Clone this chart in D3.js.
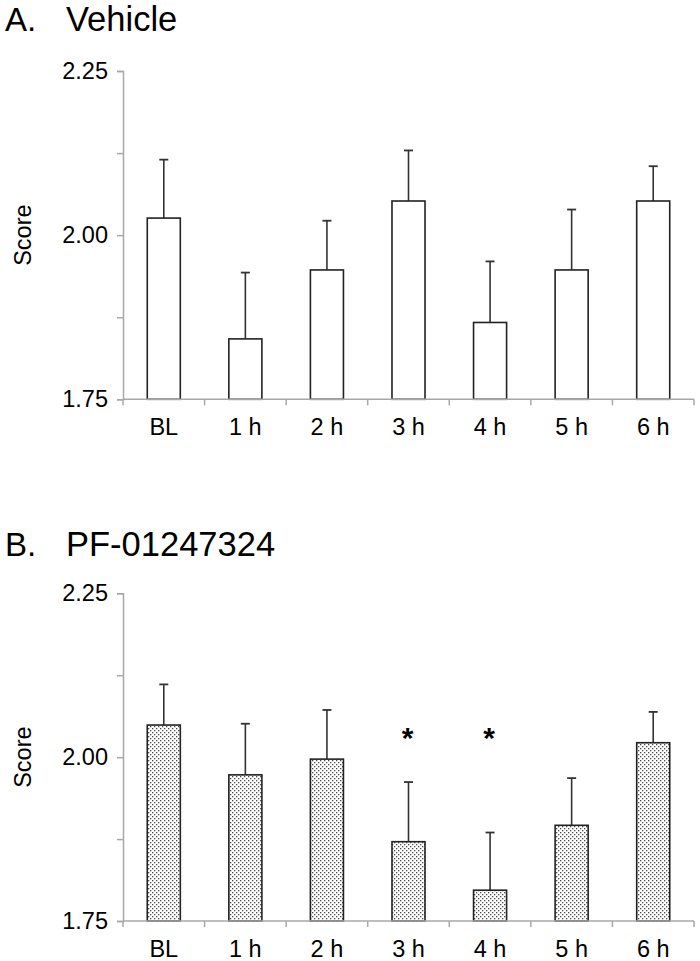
<!DOCTYPE html>
<html>
<head>
<meta charset="utf-8">
<script src="https://cdn.jsdelivr.net/npm/d3@7"></script>
<style>
  html, body { margin: 0; padding: 0; background: #fff; }
  svg { display: block; }
  text { font-family: "Liberation Sans", Arial, sans-serif; fill: #000; }
</style>
</head>
<body>
<svg id="chart" width="700" height="961"></svg>
<script>
// ---- data ----
const categories = ["BL", "1 h", "2 h", "3 h", "4 h", "5 h", "6 h"];
const vehicleMean = [2.026, 1.842, 1.947, 2.052, 1.867, 1.947, 2.052];
const vehicleErr  = [0.089, 0.101, 0.075, 0.077, 0.093, 0.092, 0.053];
const pfMean = [2.049, 1.973, 1.997, 1.871, 1.797, 1.896, 2.022];
const pfErr  = [0.062, 0.078, 0.075, 0.091, 0.088, 0.072, 0.047];
const pfSig  = ["", "", "", "*", "*", "", ""];
const yTicks = [1.75, 1.875, 2.0, 2.125, 2.25];
const yTickLabels = ["1.75", "", "2.00", "", "2.25"];
const panelTitles = [["A.", "Vehicle"], ["B.", "PF-01247324"]];
const yLabel = "Score";

const svg = d3.select("#chart");

// dotted pattern
const defs = svg.append("defs");
const pat = defs.append("pattern")
  .attr("id", "dots").attr("width", 4).attr("height", 4)
  .attr("patternUnits", "userSpaceOnUse");
pat.append("rect").attr("width", 4).attr("height", 4).attr("fill", "#fff");
pat.append("rect").attr("x", 0).attr("y", 0).attr("width", 1.3).attr("height", 1.3).attr("fill", "#4a4a4a");
pat.append("rect").attr("x", 2).attr("y", 2).attr("width", 1.3).attr("height", 1.3).attr("fill", "#4a4a4a");

const left = 123, right = 694;
const x = d3.scaleBand().domain(categories).range([left, right]).padding(0);

function panel(opts) {
  const { top, bottom, mean, err, fill, sig, title, titleBaseline } = opts;
  const y = d3.scaleLinear().domain([1.75, 2.25]).range([bottom, top]);
  const g = svg.append("g");

  // title
  g.append("text").attr("x", 5).attr("y", titleBaseline)
    .style("font-size", "33px").text(title[0]);
  g.append("text").attr("x", 66).attr("y", titleBaseline)
    .style("font-size", "34.5px").text(title[1]);

  // y axis
  const yAxis = d3.axisLeft(y).tickValues(yTicks).tickSize(6).tickPadding(9)
    .tickFormat((d, i) => yTickLabels[i]);
  const ya = g.append("g").attr("transform", `translate(${left},0)`).call(yAxis);
  ya.select(".domain").attr("stroke", "#a8a8a8").attr("stroke-width", 1.5);
  ya.selectAll(".tick line").attr("stroke", "#a8a8a8").attr("stroke-width", 1.5);
  ya.selectAll(".tick text").style("font-size", "23.5px")
    .style("font-family", '"Liberation Sans", Arial, sans-serif').attr("fill", "#000");

  // y label
  g.append("text")
    .attr("transform", `translate(31,${(top + bottom) / 2}) rotate(-90)`)
    .attr("text-anchor", "middle")
    .style("font-size", "23.5px").text(yLabel);

  // bars
  const bw = x.bandwidth() * 0.405;
  const cx = d => x(d) + x.bandwidth() / 2;

  // error bars
  const eb = g.append("g");
  categories.forEach((c, i) => {
    eb.append("line").attr("x1", cx(c)).attr("x2", cx(c))
      .attr("y1", y(mean[i])).attr("y2", y(mean[i] + err[i]))
      .attr("stroke", "#333").attr("stroke-width", 1.6);
    eb.append("line").attr("x1", cx(c) - 4.5).attr("x2", cx(c) + 4.5)
      .attr("y1", y(mean[i] + err[i])).attr("y2", y(mean[i] + err[i]))
      .attr("stroke", "#333").attr("stroke-width", 1.8);
  });

  g.append("g").selectAll("rect").data(categories).join("rect")
    .attr("x", d => cx(d) - bw / 2)
    .attr("width", bw)
    .attr("y", (d, i) => y(mean[i]))
    .attr("height", (d, i) => y(1.75) - y(mean[i]))
    .attr("fill", fill)
    .attr("stroke", "#222").attr("stroke-width", 1.6);

  // x axis
  const xa = g.append("g").attr("transform", `translate(0,${bottom})`);
  xa.append("line").attr("x1", left).attr("x2", right).attr("y1", 0).attr("y2", 0)
    .attr("stroke", "#a8a8a8").attr("stroke-width", 1.5);
  const bounds = categories.map(c => x(c)).concat([right]);
  xa.selectAll("line.tk").data(bounds).join("line").attr("class", "tk")
    .attr("x1", d => d).attr("x2", d => d).attr("y1", 0).attr("y2", 6)
    .attr("stroke", "#a8a8a8").attr("stroke-width", 1.5);
  xa.selectAll("text").data(categories).join("text")
    .attr("x", d => cx(d)).attr("y", 36).attr("text-anchor", "middle")
    .style("font-size", "23.5px").text(d => d);

  // significance
  if (sig) {
    g.append("g").selectAll("text").data(categories).join("text")
      .attr("x", d => cx(d) - 1).attr("y", y(2.04) + 17)
      .attr("text-anchor", "middle").style("font-size", "30px").style("font-weight", "bold")
      .text((d, i) => sig[i]);
  }
}

panel({ top: 71, bottom: 399.3, mean: vehicleMean, err: vehicleErr, fill: "#fff",
        sig: null, title: panelTitles[0], titleBaseline: 31 });
panel({ top: 593.3, bottom: 921, mean: pfMean, err: pfErr, fill: "url(#dots)",
        sig: pfSig, title: panelTitles[1], titleBaseline: 556 });
</script>
</body>
</html>
